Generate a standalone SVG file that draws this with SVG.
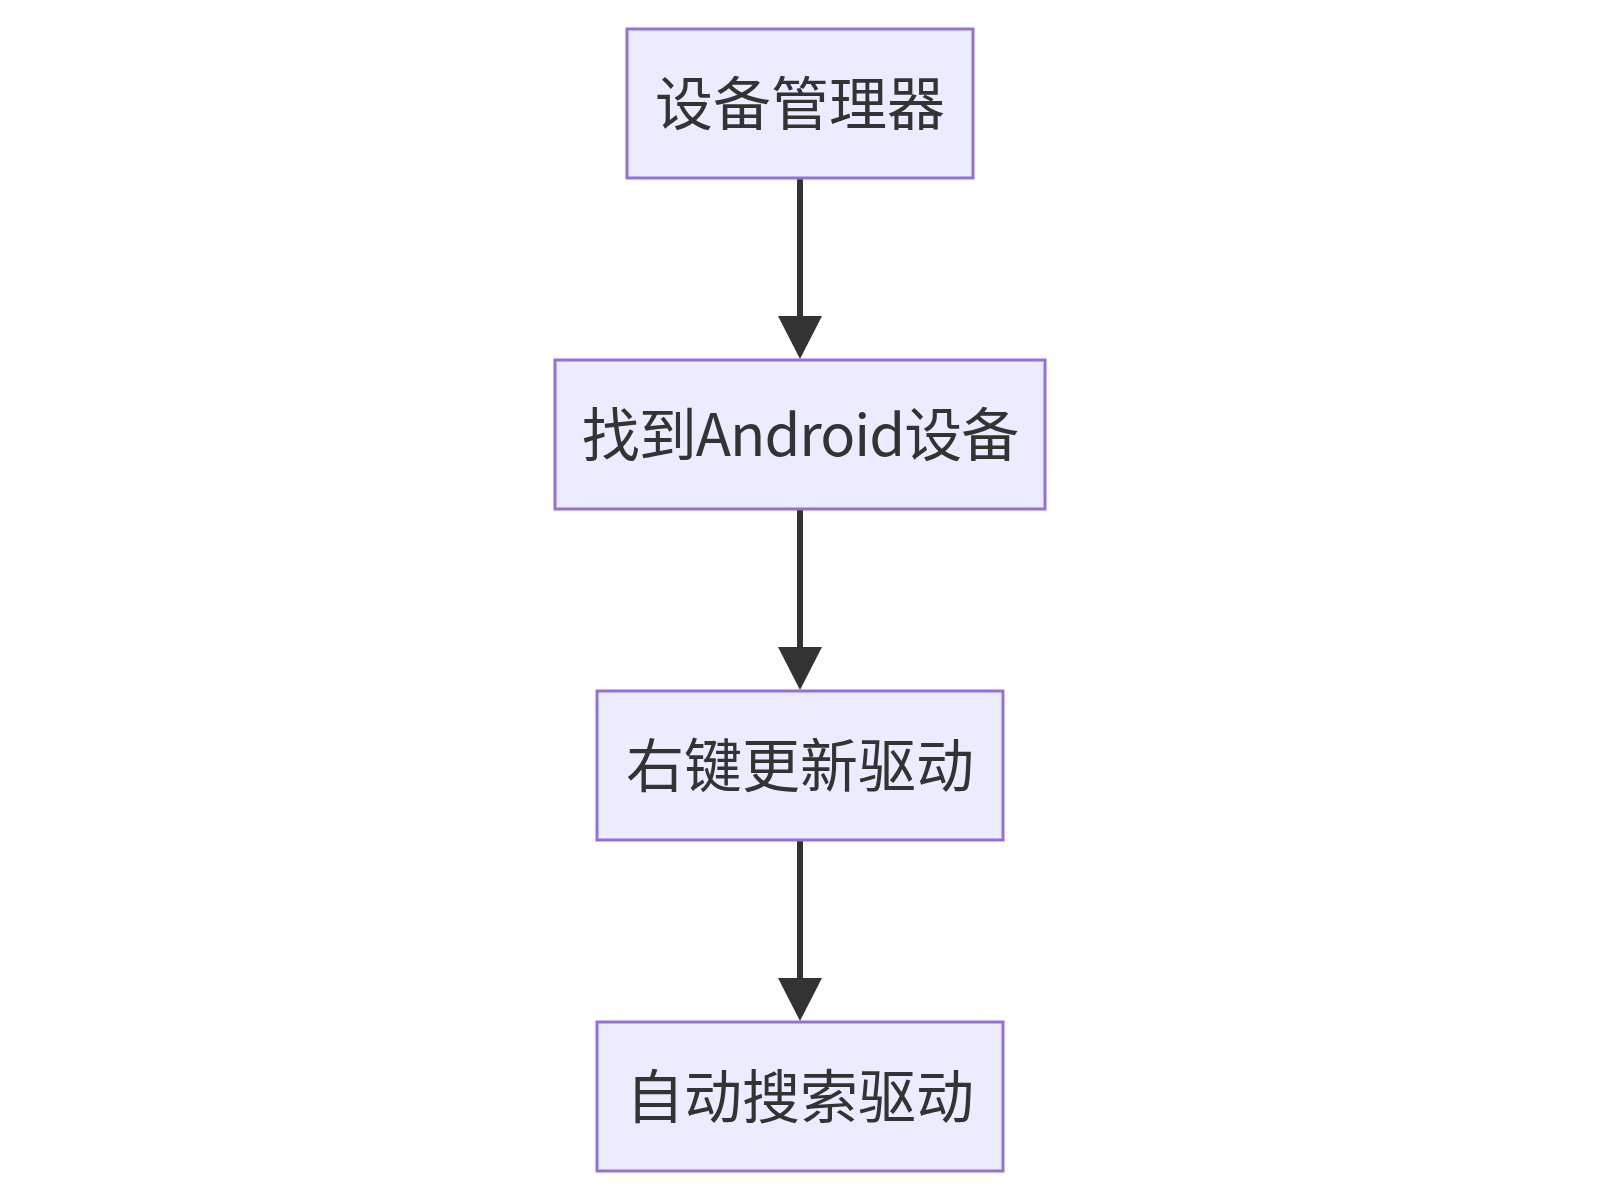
<svg xmlns="http://www.w3.org/2000/svg" width="1600" height="1200" viewBox="0 0 1600 1200">
<style>
.node rect{fill:#ECECFF;stroke:#9370DB;stroke-width:3}
.node text{font-family:"Noto Sans CJK SC","Liberation Sans",sans-serif;font-size:58px;fill:#333;text-anchor:middle;dominant-baseline:central}
.edge{stroke:#333;stroke-width:6;fill:none}
</style>
<defs>
<marker id="arr" markerUnits="userSpaceOnUse" viewBox="0 0 43 44" markerWidth="43" markerHeight="44" refX="0" refY="22" orient="auto">
<path d="M0,0 L43,22 L0,44 z" fill="#333"/>
</marker>
</defs>
<rect width="1600" height="1200" fill="#fff"/>
<g id="edges">
<path class="edge" d="M800,178 L800,316" marker-end="url(#arr)"/>
<path class="edge" d="M800,509 L800,647" marker-end="url(#arr)"/>
<path class="edge" d="M800,840 L800,978" marker-end="url(#arr)"/>
</g>
<g id="n1" class="node"><rect x="627" y="29" width="346" height="149"/><text x="800" y="100">设备管理器</text></g>
<g id="n2" class="node"><rect x="555" y="360" width="490" height="149"/><text x="800" y="431" letter-spacing="-1">找到Android设备</text></g>
<g id="n3" class="node"><rect x="597" y="691" width="406" height="149"/><text x="800" y="762">右键更新驱动</text></g>
<g id="n4" class="node"><rect x="597" y="1022" width="406" height="149"/><text x="800" y="1093">自动搜索驱动</text></g>
</svg>
